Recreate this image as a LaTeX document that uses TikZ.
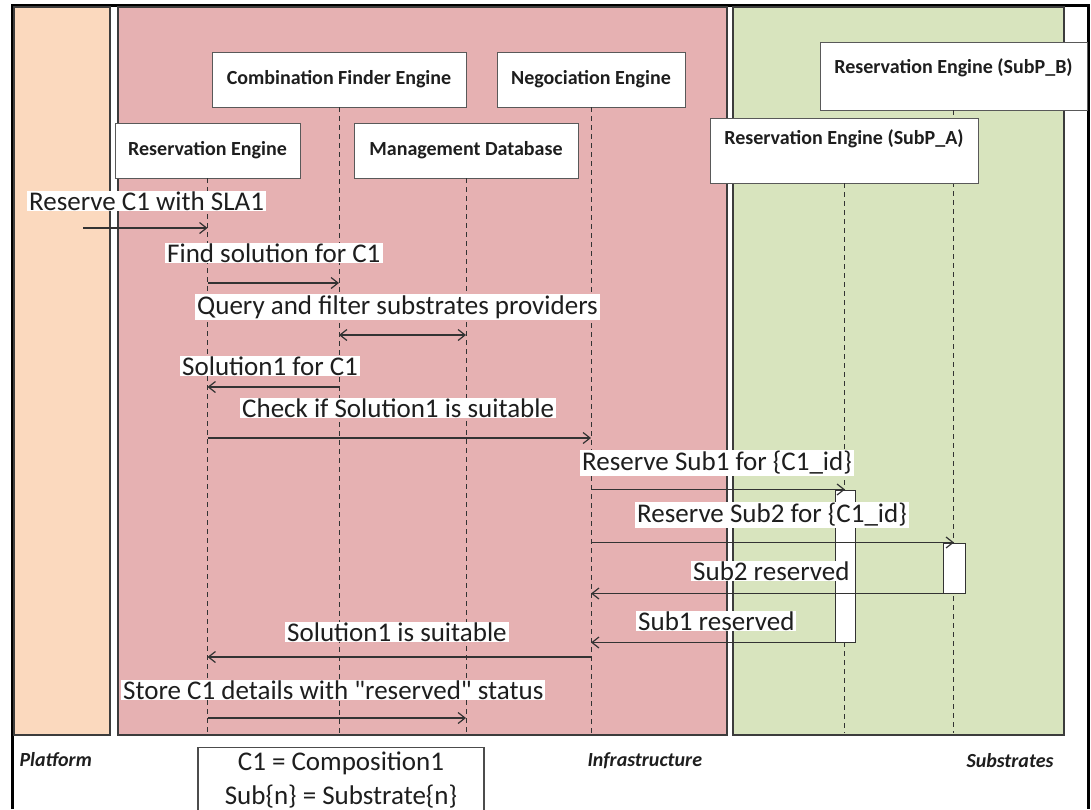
\documentclass[tikz,border=0pt]{standalone}
\usepackage{fontspec}
\setmainfont{Carlito}[Ligatures=TeXOff]
\usetikzlibrary{arrows.meta}

\definecolor{platfill}{HTML}{FBD9BE}
\definecolor{infrafill}{HTML}{E6B1B2}
\definecolor{subfill}{HTML}{D8E4BE}
\definecolor{edge}{HTML}{3C3C3C}
\definecolor{ink}{HTML}{1E1E1E}

\tikzset{
  panel/.style={draw=edge, line width=1.4pt},
  actor/.style={draw=black!65, fill=white, line width=0.9pt, inner sep=0pt,
    font=\fontsize{20}{24}\selectfont\bfseries, text=ink},
  lifeline/.style={draw=black!80, line width=1pt, dash pattern=on 5pt off 4pt},
  msg/.style={draw=black!80, line width=1.2pt, -{Straight Barb[length=7pt,width=11pt]}},
  dualmsg/.style={draw=black!80, line width=1.2pt,
    {Straight Barb[length=7pt,width=11pt]}-{Straight Barb[length=7pt,width=11pt]}},
  msglabel/.style={fill=white, inner xsep=2pt, inner ysep=1pt, anchor=west,
    font=\fontsize{27}{32}\selectfont, text=ink},
  activation/.style={draw=black!80, fill=white, line width=1pt, inner sep=0pt},
  zonelabel/.style={font=\fontsize{20}{24}\selectfont\bfseries\itshape, text=ink},
  legendbox/.style={draw=black!70, line width=1.3pt, fill=white, align=center,
    inner xsep=0pt, inner ysep=4pt, font=\fontsize{27}{34}\selectfont, text=ink},
}

\begin{document}
\begin{tikzpicture}[x=1pt, y=-1pt]
\useasboundingbox (0,0) rectangle (1091,809);

% outer frame (open at the bottom)
\draw[black, line width=3pt] (12,809) -- (12,5.5) -- (1088.5,5.5) -- (1088.5,809);

% domain panels
\path[panel, fill=platfill] (14,7) rectangle (110,735);
\path[panel, fill=infrafill] (118,7) rectangle (727,735);
\path[panel, fill=subfill] (733,7) rectangle (1064,735);

% bottom of all lifelines
\coordinate (floor) at (0,733);

% participants (boxes placed first so lifelines can hang from them)
\node[actor, minimum width=254pt, minimum height=55pt] (cfe) at (339,79.5) {Combination Finder Engine};
\node[actor, minimum width=188pt, minimum height=55pt] (ne) at (591,79.5) {Negociation Engine};
\node[actor, minimum width=185pt, minimum height=55pt] (rese) at (207.5,150.5) {Reservation Engine};
\node[actor, minimum width=224pt, minimum height=55pt] (mdb) at (466,150.5) {Management Database};
\node[actor, minimum width=267pt, text height=31.5pt, text depth=36.5pt] (subb) at (953.5,76) {Reservation Engine (SubP\_B)};

% lifelines
\draw[lifeline] (cfe.south) -- (cfe.south |- floor);
\draw[lifeline] (ne.south) -- (ne.south |- floor);
\draw[lifeline] (rese.south) -- (rese.south |- floor);
\draw[lifeline] (mdb.south) -- (mdb.south |- floor);
\draw[lifeline] (subb.south) -- (subb.south |- floor);

% SubP_A box sits over the SubP_B lifeline
\node[actor, minimum width=268pt, text height=26.5pt, text depth=38.5pt] (suba) at (844,150.5) {Reservation Engine (SubP\_A)};
\draw[lifeline] (suba.south) -- (suba.south |- floor);

% activation bars
\node[activation, minimum width=20pt, minimum height=152pt] (acta) at (845,566) {};
\node[activation, minimum width=22pt, minimum height=50pt] (actb) at (954,568) {};

% free end of the incoming request
\coordinate (client) at (83,228);

% messages
\draw[msg] (client) -- (rese |- client);
\draw[msg] (rese |- 0,283) -- (cfe |- 0,283);
\draw[dualmsg] (cfe |- 0,335) -- (mdb |- 0,335);
\draw[msg] (cfe |- 0,387) -- (rese |- 0,387);
\draw[msg] (rese |- 0,438) -- (ne |- 0,438);
\draw[msg] (ne |- acta.north) -- (acta.north);
\draw[msg] (ne |- actb.north) -- (actb.north);
\draw[msg] (actb.south east) -- (ne |- actb.south);
\draw[msg] (acta.south west) -- (ne |- acta.south);
\draw[msg] (ne |- 0,657) -- (rese |- 0,657);
\draw[msg] (rese |- 0,718) -- (mdb |- 0,718);

% message labels
\node[msglabel] (l1) at (27,201) {Reserve C1 with SLA1};
\node[msglabel] (l2) at (165,253) {Find solution for C1};
\node[msglabel] (l3) at (195,307) {Query and filter substrates providers};
\node[msglabel] (l4) at (180,366) {Solution1 for C1};
\node[msglabel] (l5) at (240,408) {Check if Solution1 is suitable};
\node[msglabel] (l6) at (580,463) {Reserve Sub1 for \{C1\_id\}};
\node[msglabel] (l7) at (635,515) {Reserve Sub2 for \{C1\_id\}};
\node[msglabel] (l8) at (691,571) {Sub2 reserved};
\node[msglabel] (l9) at (636,621) {Sub1 reserved};
\node[msglabel] (l10) at (285,632) {Solution1 is suitable};
\node[msglabel] (l11) at (121,690) {Store C1 details with "reserved" status};

% domain names
\node[zonelabel, anchor=west] (zplat) at (16,760) {Platform};
\node[zonelabel, anchor=west] (zinfra) at (584,761) {Infrastructure};
\node[zonelabel, anchor=east] (zsub) at (1057,761) {Substrates};

% legend
\node[legendbox, minimum width=286pt, anchor=north] (legend) at (341,747)
  {C1 = Composition1\\Sub\{n\} = Substrate\{n\}};
\end{tikzpicture}
\end{document}
